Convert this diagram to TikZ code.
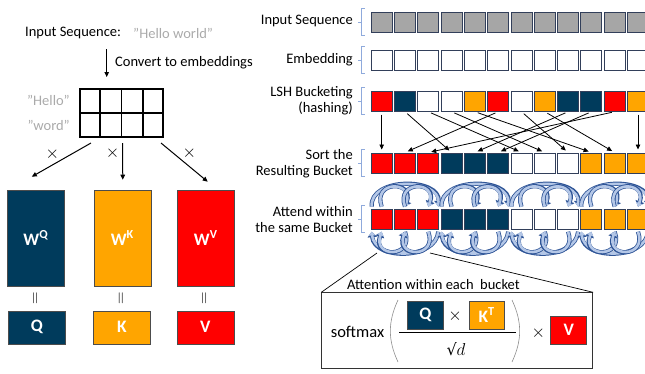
\documentclass[tikz,border=0pt]{standalone}
\usepackage{fontspec}
\setmainfont{Carlito}
\newfontfamily\symfont{DejaVu Serif}
\usetikzlibrary{arrows.meta, positioning, calc}
\definecolor{navyq}{RGB}{0,59,92}
\definecolor{orangek}{RGB}{255,165,0}
\definecolor{redv}{RGB}{255,0,0}
\definecolor{tokgray}{RGB}{166,166,166}
\definecolor{txtgray}{RGB}{170,170,170}
\definecolor{cellline}{RGB}{50,63,90}
\definecolor{brkt}{RGB}{143,170,220}
\definecolor{loopfill}{RGB}{180,199,231}
\definecolor{loopline}{RGB}{47,85,151}
\definecolor{pargray}{RGB}{140,140,140}
\tikzset{
    lbl/.style={font=\fontsize{14.5}{16}\selectfont, inner sep=0pt},
    rowlbl/.style={lbl, align=right, anchor=east},
    opsym/.style={inner sep=0pt, font=\fontsize{17}{18}\selectfont},
    eqsym/.style={inner sep=0pt, font=\fontsize{19}{20}\selectfont, rotate=90},
    cell/.style={draw=cellline, line width=1pt, minimum width=21pt, minimum height=20pt, inner sep=0pt},
    wbox/.style={draw=black!70, line width=0.6pt, minimum width=57pt, minimum height=96pt, inner sep=0pt, text=white, font=\fontsize{17.5}{18}\selectfont\bfseries},
    vbox/.style={wbox, minimum height=33pt},
    fbox/.style={wbox, minimum width=36pt, minimum height=28pt},
    brk/.style={draw=brkt, line width=0.8pt},
    arr/.style={line width=1pt, -{Triangle[length=5pt,width=4.5pt]}},
    hop/.style={line width=0.8pt, -{Triangle[length=5pt,width=4.5pt]}, shorten <=3pt, shorten >=3pt},
    circarr/.style={draw=loopfill, line width=2.6pt, -{Triangle[length=3.8pt,width=6.5pt]},
        preaction={draw=loopline, line width=4.2pt, -{Triangle[length=5.5pt,width=9pt]}}},
}

\begin{document}
\begin{tikzpicture}[x=1pt, y=1pt]
    \useasboundingbox (0,0) rectangle (645,-373);

    % left: embeddings and projections
    \node[lbl, anchor=west] (inseq) at (25,-33) {Input Sequence:};
    \node[lbl, anchor=west, text=txtgray] (hw) at (133,-33) {"Hello world"};
    \coordinate (cv) at (106.7,-49);
    \node[draw, line width=2pt, minimum width=83pt, minimum height=48pt, inner sep=0pt] (grid) at (121.5,-113) {};
    \draw[line width=1.6pt] (grid.west) -- (grid.east);
    \foreach \f in {0.25,0.5,0.75}
        \draw[line width=1.6pt] ($(grid.north west)!\f!(grid.north east)$) -- ($(grid.south west)!\f!(grid.south east)$);
    \draw[arr, shorten >=11pt] (cv) -- (cv |- grid.north);
    \node[lbl, anchor=west] (conv) at (115,-63) {Convert to embeddings};
    \node[lbl, anchor=east, text=txtgray] (hello) at (70,-100) {"Hello"};
    \node[lbl, anchor=east, text=txtgray] (word) at (70,-125) {"word"};

    \node[wbox, fill=navyq] (wq) at (35.8,-238) {W\textsuperscript{Q}};
    \node[wbox, fill=orangek] (wk) at (122.3,-238) {W\textsuperscript{K}};
    \node[wbox, fill=redv] (wv) at (205.7,-238) {W\textsuperscript{V}};
    \node[vbox, fill=navyq] (q) at (37,-327.3) {Q};
    \node[vbox, fill=orangek] (k) at (122,-327.3) {K};
    \node[vbox, fill=redv] (v) at (205.3,-327.3) {V};
    \foreach \w/\m in {wq/q,wk/k,wv/v}
        \node[eqsym] (eq\m) at ($(\w.south)!0.5!(\m.north)$) {$=$};

    \draw[arr] ($(grid.south west)+(12,-5)$) -- ($(wq.north)+(-4,13)$)
        node[opsym, midway, xshift=-9pt, yshift=6pt] {$\times$};
    \draw[arr] ($(grid.south)+(1,-5)$) -- ($(wk.north)+(0.5,10)$)
        node[opsym, midway, xshift=-10pt, yshift=8pt] {$\times$};
    \draw[arr] ($(grid.south east)+(-3,-5)$) -- ($(wv.north)+(2,8)$)
        node[opsym, midway, xshift=5pt, yshift=9pt] {$\times$};

    % right: LSH attention rows
    \node[rowlbl] (linp) at (353,-21) {Input Sequence};
    \node[rowlbl] (lemb) at (353,-60) {Embedding};
    \node[rowlbl] (llsh) at (353,-101) {LSH Bucketing\\(hashing)};
    \node[rowlbl] (lsrt) at (353,-164) {Sort the \\Resulting Bucket};
    \node[rowlbl] (latt) at (353,-220) {Attend within \\the same Bucket};

    \foreach \i in {1,...,12} {
        \node[cell, fill=tokgray] (in\i) at ({381.7+23.3*(\i-1)},-22) {};
        \node[cell, fill=white] (emb\i) at ({381.7+23.3*(\i-1)},-60.3) {};
    }
    \foreach \c [count=\i] in {redv,navyq,white,white,orangek,redv,white,orangek,navyq,navyq,redv,orangek}
        \node[cell, fill=\c] (lsh\i) at ({381.7+23.3*(\i-1)},-101.2) {};
    \foreach \c [count=\i] in {redv,redv,redv,navyq,navyq,navyq,white,white,white,orangek,orangek,orangek} {
        \node[cell, fill=\c] (srt\i) at ({381.7+23.3*(\i-1)},-163) {};
        \node[cell, fill=\c] (att\i) at ({381.7+23.3*(\i-1)},-219.2) {};
    }
    \foreach \r in {in,emb,lsh,srt,att} {
        \draw[brk] ($(\r1.north west)+(-6,3)$) -| ($(\r1.south west)+(-9,-3)$) -- ++(3,0);
        \draw[brk] ($(\r1.west)+(-9,0)$) -- ++(-4,0);
    }

    \foreach \s/\t in {1/1,2/4,3/7,4/8,5/10,6/2,7/9,8/11,9/5,10/6,11/3,12/12}
        \draw[hop] (lsh\s.south) -- (srt\t.north);

    \foreach \a/\b/\c in {1/2/3,4/5/6,7/8/9,10/11/12} {
        \draw[circarr] ($(att\a.north west)+(1,2)$) to[out=95, in=85, looseness=1.15] ($(att\c.north east)+(-1,2)$);
        \draw[circarr] ($(att\c.south east)+(-1,-2)$) to[out=-95, in=-85, looseness=1.1] ($(att\a.south west)+(1,-2)$);
        \draw[circarr] ($(att\a.north)+(0,2)$) to[out=110, in=70, looseness=3.1] ($(att\b.north)+(0,2)$);
        \draw[circarr] ($(att\b.north)+(0,2)$) to[out=110, in=70, looseness=3.1] ($(att\c.north)+(0,2)$);
        \draw[circarr] ($(att\b.south)+(0,-2)$) to[out=-70, in=-110, looseness=3.1] ($(att\a.south)+(0,-2)$);
        \draw[circarr] ($(att\c.south)+(0,-2)$) to[out=-70, in=-110, looseness=3.1] ($(att\b.south)+(0,-2)$);
    }

    % attention formula
    \coordinate (zl) at (377,-253);
    \coordinate (zr) at (430,-253);
    \node[draw=black!80, line width=0.8pt, minimum width=271pt, minimum height=75.6pt, inner sep=0pt] (fml) at (457.2,-330.5) {};
    \draw[line width=0.7pt] (fml.north west) -- (zl);
    \draw[line width=0.7pt] (fml.north east) -- (zr);
    \node[lbl] (ttl) at (433.4,-285) {Attention within each~ bucket};
    \node[lbl, font=\fontsize{16.5}{18}\selectfont] (smx) at (357.5,-331.7) {softmax};
    \node[fbox, fill=navyq] (fq) at (425.3,-315) {Q};
    \node[opsym] (tm1) at (455,-316) {$\times$};
    \node[fbox, fill=orangek, minimum width=34.7pt] (fk) at (486.7,-315) {K\textsuperscript{T}};
    \draw[line width=0.7pt] (399.3,-332.7) -- (516,-332.7);
    \node[inner sep=0pt, font=\fontsize{16}{18}\selectfont] (sqd) at (456,-349) {{\symfont √}$d$};
    \draw[pargray, line width=0.6pt] (398,-300) to[bend right=25] (398,-362);
    \draw[pargray, line width=0.6pt] (512,-300) to[bend left=25] (512,-362);
    \node[opsym] (tm2) at (538.3,-332.7) {$\times$};
    \node[fbox, fill=redv] (fv) at (568.7,-330.2) {V};
\end{tikzpicture}
\end{document}
